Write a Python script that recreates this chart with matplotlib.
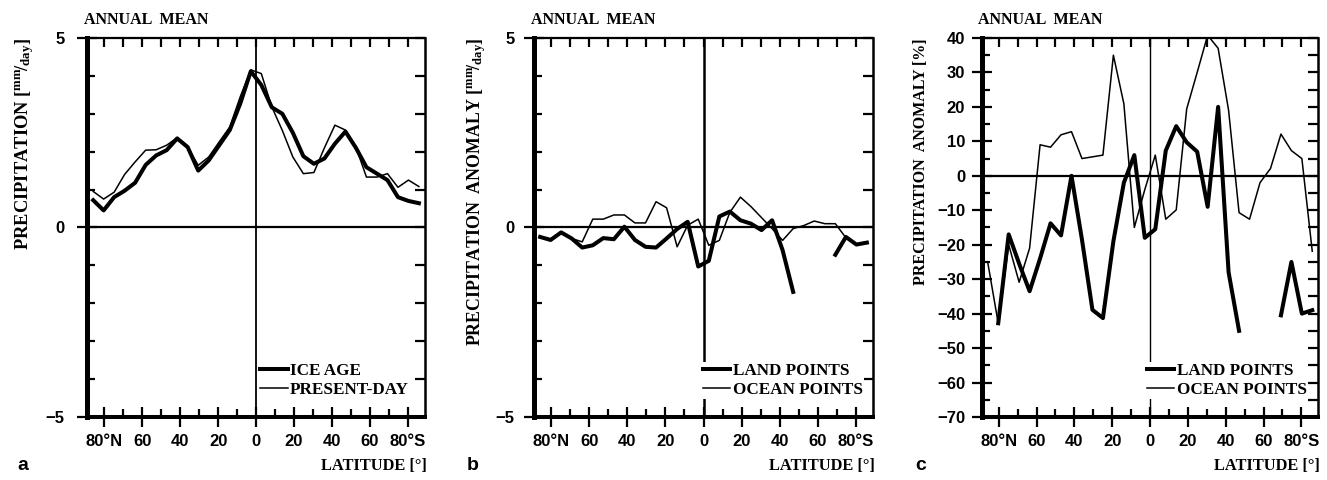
"""Zonal mean precipitation: ice age vs present-day, and land/ocean anomalies."""

import numpy as np
import matplotlib

matplotlib.use("Agg")
import matplotlib.pyplot as plt
from matplotlib.ticker import FixedLocator, MultipleLocator

# Gaussian grid latitudes, north positive (85.8N ... 85.8S)
LATS = [85.76, 80.27, 74.74, 69.21, 63.68, 58.14, 52.61, 47.07,
        41.53, 36.00, 30.46, 24.92, 19.38, 13.84, 8.31, 2.77,
        -2.77, -8.31, -13.84, -19.38, -24.92, -30.46, -36.00, -41.53,
        -47.07, -52.61, -58.14, -63.68, -69.21, -74.74, -80.27, -85.76]

# panel a: annual mean precipitation [mm/day]
ICE_AGE = [0.72, 0.45, 0.80, 0.97, 1.18, 1.65, 1.90, 2.04,
           2.35, 2.12, 1.50, 1.77, 2.17, 2.57, 3.27, 4.12,
           3.76, 3.17, 3.00, 2.50, 1.88, 1.68, 1.82, 2.21,
           2.53, 2.10, 1.59, 1.42, 1.25, 0.80, 0.70, 0.64]
PRESENT_DAY = [0.95, 0.75, 0.93, 1.40, 1.73, 2.04, 2.05, 2.17,
               2.37, 2.12, 1.64, 1.86, 2.26, 2.65, 3.45, 4.16,
               4.06, 3.18, 2.56, 1.86, 1.42, 1.45, 2.10, 2.70,
               2.57, 2.12, 1.33, 1.33, 1.42, 1.06, 1.25, 1.08]

# panel b: anomaly [mm/day]
LAND_MM = [-0.25, -0.33, -0.13, -0.29, -0.53, -0.47, -0.28, -0.31,
           0.02, -0.33, -0.51, -0.53, -0.29, -0.04, 0.15, -1.03,
           -0.88, 0.29, 0.42, 0.19, 0.10, -0.07, 0.19, -0.60,
           -1.70, np.nan, np.nan, np.nan, -0.72, -0.25, -0.45, -0.40]
OCEAN_MM = [-0.25, -0.30, -0.15, -0.29, -0.38, 0.22, 0.22, 0.33,
            0.33, 0.12, 0.12, 0.68, 0.52, -0.51, 0.06, 0.22,
            -0.47, -0.34, 0.40, 0.80, 0.55, 0.26, -0.03, -0.34,
            -0.03, 0.05, 0.17, 0.10, 0.10, -0.27, -0.45, -0.38]

# panel c: anomaly [%]
LAND_PCT = [np.nan, -42.8, -17.0, -25.5, -33.5, -24.0, -13.8, -17.3,
            0.0, -18.5, -38.9, -41.3, -19.0, -2.0, 6.0, -18.0,
            -15.5, 7.3, 14.4, 9.7, 7.0, -9.0, 20.0, -28.0,
            -45.0, np.nan, np.nan, np.nan, -40.5, -25.0, -40.0, -39.0]
OCEAN_PCT = [-25.3, -42.8, -20.0, -30.9, -21.0, 9.0, 8.3, 11.9,
             12.8, 5.0, 5.5, 6.0, 35.0, 20.9, -15.0, -4.0,
             6.0, -12.6, -9.9, 19.4, 30.0, 40.8, 37.0, 19.0,
             -10.7, -12.6, -2.0, 2.1, 12.1, 7.3, 5.0, -21.9]

XTICKS = [80, 60, 40, 20, 0, -20, -40, -60, -80]
XTICK_LABELS = ["80°N", "60", "40", "20", "0", "20", "40", "60", "80°S"]

plt.rcParams.update({
    "font.family": "Liberation Serif",
    "font.weight": "bold",
    "axes.labelweight": "bold",
    "mathtext.fontset": "custom",
    "mathtext.rm": "Liberation Serif:bold",
    "mathtext.it": "Liberation Serif:bold",
    "mathtext.bf": "Liberation Serif:bold",
})

THICK = 2.9
THIN = 1.1


def style_axes(ax, ylim, yticks, ystep, ylabel, ylabel_x, ylabel_size, ypad):
    ax.set_xlim(89, -89)
    ax.set_ylim(*ylim)
    ax.xaxis.set_major_locator(FixedLocator(XTICKS))
    ax.set_xticklabels(XTICK_LABELS)
    ax.xaxis.set_minor_locator(MultipleLocator(10))
    ax.yaxis.set_major_locator(FixedLocator(yticks))
    ax.yaxis.set_minor_locator(MultipleLocator(ystep))
    ax.tick_params(which="major", direction="inout", length=14, width=1.6,
                   labelsize=12, labelfontfamily="Liberation Sans")
    ax.tick_params(which="minor", direction="in", length=6, width=1.6)
    ax.tick_params(axis="x", pad=5)
    ax.tick_params(axis="y", pad=ypad)
    ax.spines["left"].set_linewidth(3.6)
    ax.spines["bottom"].set_linewidth(2.9)
    ax.spines["top"].set_visible(False)
    ax.spines["right"].set_visible(False)

    top = ax.secondary_xaxis("top")
    top.xaxis.set_major_locator(MultipleLocator(10))
    top.tick_params(direction="in", length=6.5, width=1.6, labeltop=False)
    top.spines["top"].set_linewidth(1.6)
    right = ax.secondary_yaxis("right")
    right.yaxis.set_major_locator(MultipleLocator(ystep))
    right.tick_params(direction="in", length=7, width=1.6, labelright=False)
    right.spines["right"].set_linewidth(1.8)

    ax.set_ylabel(ylabel, loc="top", fontsize=ylabel_size)
    ax.yaxis.set_label_coords(ylabel_x, 1.0)
    ax.set_xlabel("LATITUDE [°]", loc="right", fontsize=11.8)
    ax.xaxis.set_label_coords(1.005, -0.108)
    ax.text(-0.01, 1.047, "ANNUAL  MEAN", transform=ax.transAxes,
            fontsize=11.5, ha="left", va="center")


def add_lines(ax, thick, thin, labels, vline_width, legend_x):
    ax.axhline(0, color="black", lw=1.6, zorder=1)
    ax.axvline(0, color="black", lw=vline_width, zorder=1)
    ax.plot(LATS, thick, color="black", lw=THICK, label=labels[0], zorder=3)
    ax.plot(LATS, thin, color="black", lw=THIN, label=labels[1], zorder=3)
    ax.legend(loc="lower right", bbox_to_anchor=(legend_x, 0.047),
              frameon=True, fancybox=False, edgecolor="none",
              facecolor="white", framealpha=1, handlelength=1.6,
              handletextpad=0.15, labelspacing=0.2, borderpad=0.05,
              borderaxespad=0, fontsize=12.3)


fig = plt.figure(figsize=(13.27, 4.8), dpi=100)

ax_a = fig.add_axes([0.0656, 0.1313, 0.2547, 0.7896])
add_lines(ax_a, ICE_AGE, PRESENT_DAY, ["ICE AGE", "PRESENT-DAY"], 1.3, 0.955)
style_axes(ax_a, (-5, 5), [-5, 0, 5], 1,
           r"PRECIPITATION [$^{\rm mm}\!/_{\rm day}$]", -0.152, 13.3, 9)

ax_b = fig.add_axes([0.4024, 0.1313, 0.2555, 0.7896])
add_lines(ax_b, LAND_MM, OCEAN_MM, ["LAND POINTS", "OCEAN POINTS"], 1.8, 0.972)
style_axes(ax_b, (-5, 5), [-5, 0, 5], 1,
           r"PRECIPITATION  ANOMALY [$^{\rm mm}\!/_{\rm day}$]", -0.136, 12.9, 7)

ax_c = fig.add_axes([0.7398, 0.1313, 0.2537, 0.7896])
add_lines(ax_c, LAND_PCT, OCEAN_PCT, ["LAND POINTS", "OCEAN POINTS"], 1.0, 0.968)
style_axes(ax_c, (-70, 40), list(range(-70, 41, 10)), 5,
           "PRECIPITATION  ANOMALY [%]", -0.157, 11.5, 5)

for x, letter in [(0.017, "a"), (0.3565, "b"), (0.694, "c")]:
    fig.text(x, 0.031, letter, fontsize=14, family="Liberation Sans",
             weight="bold", ha="center", va="center")

fig.savefig("out.png", dpi=100)
